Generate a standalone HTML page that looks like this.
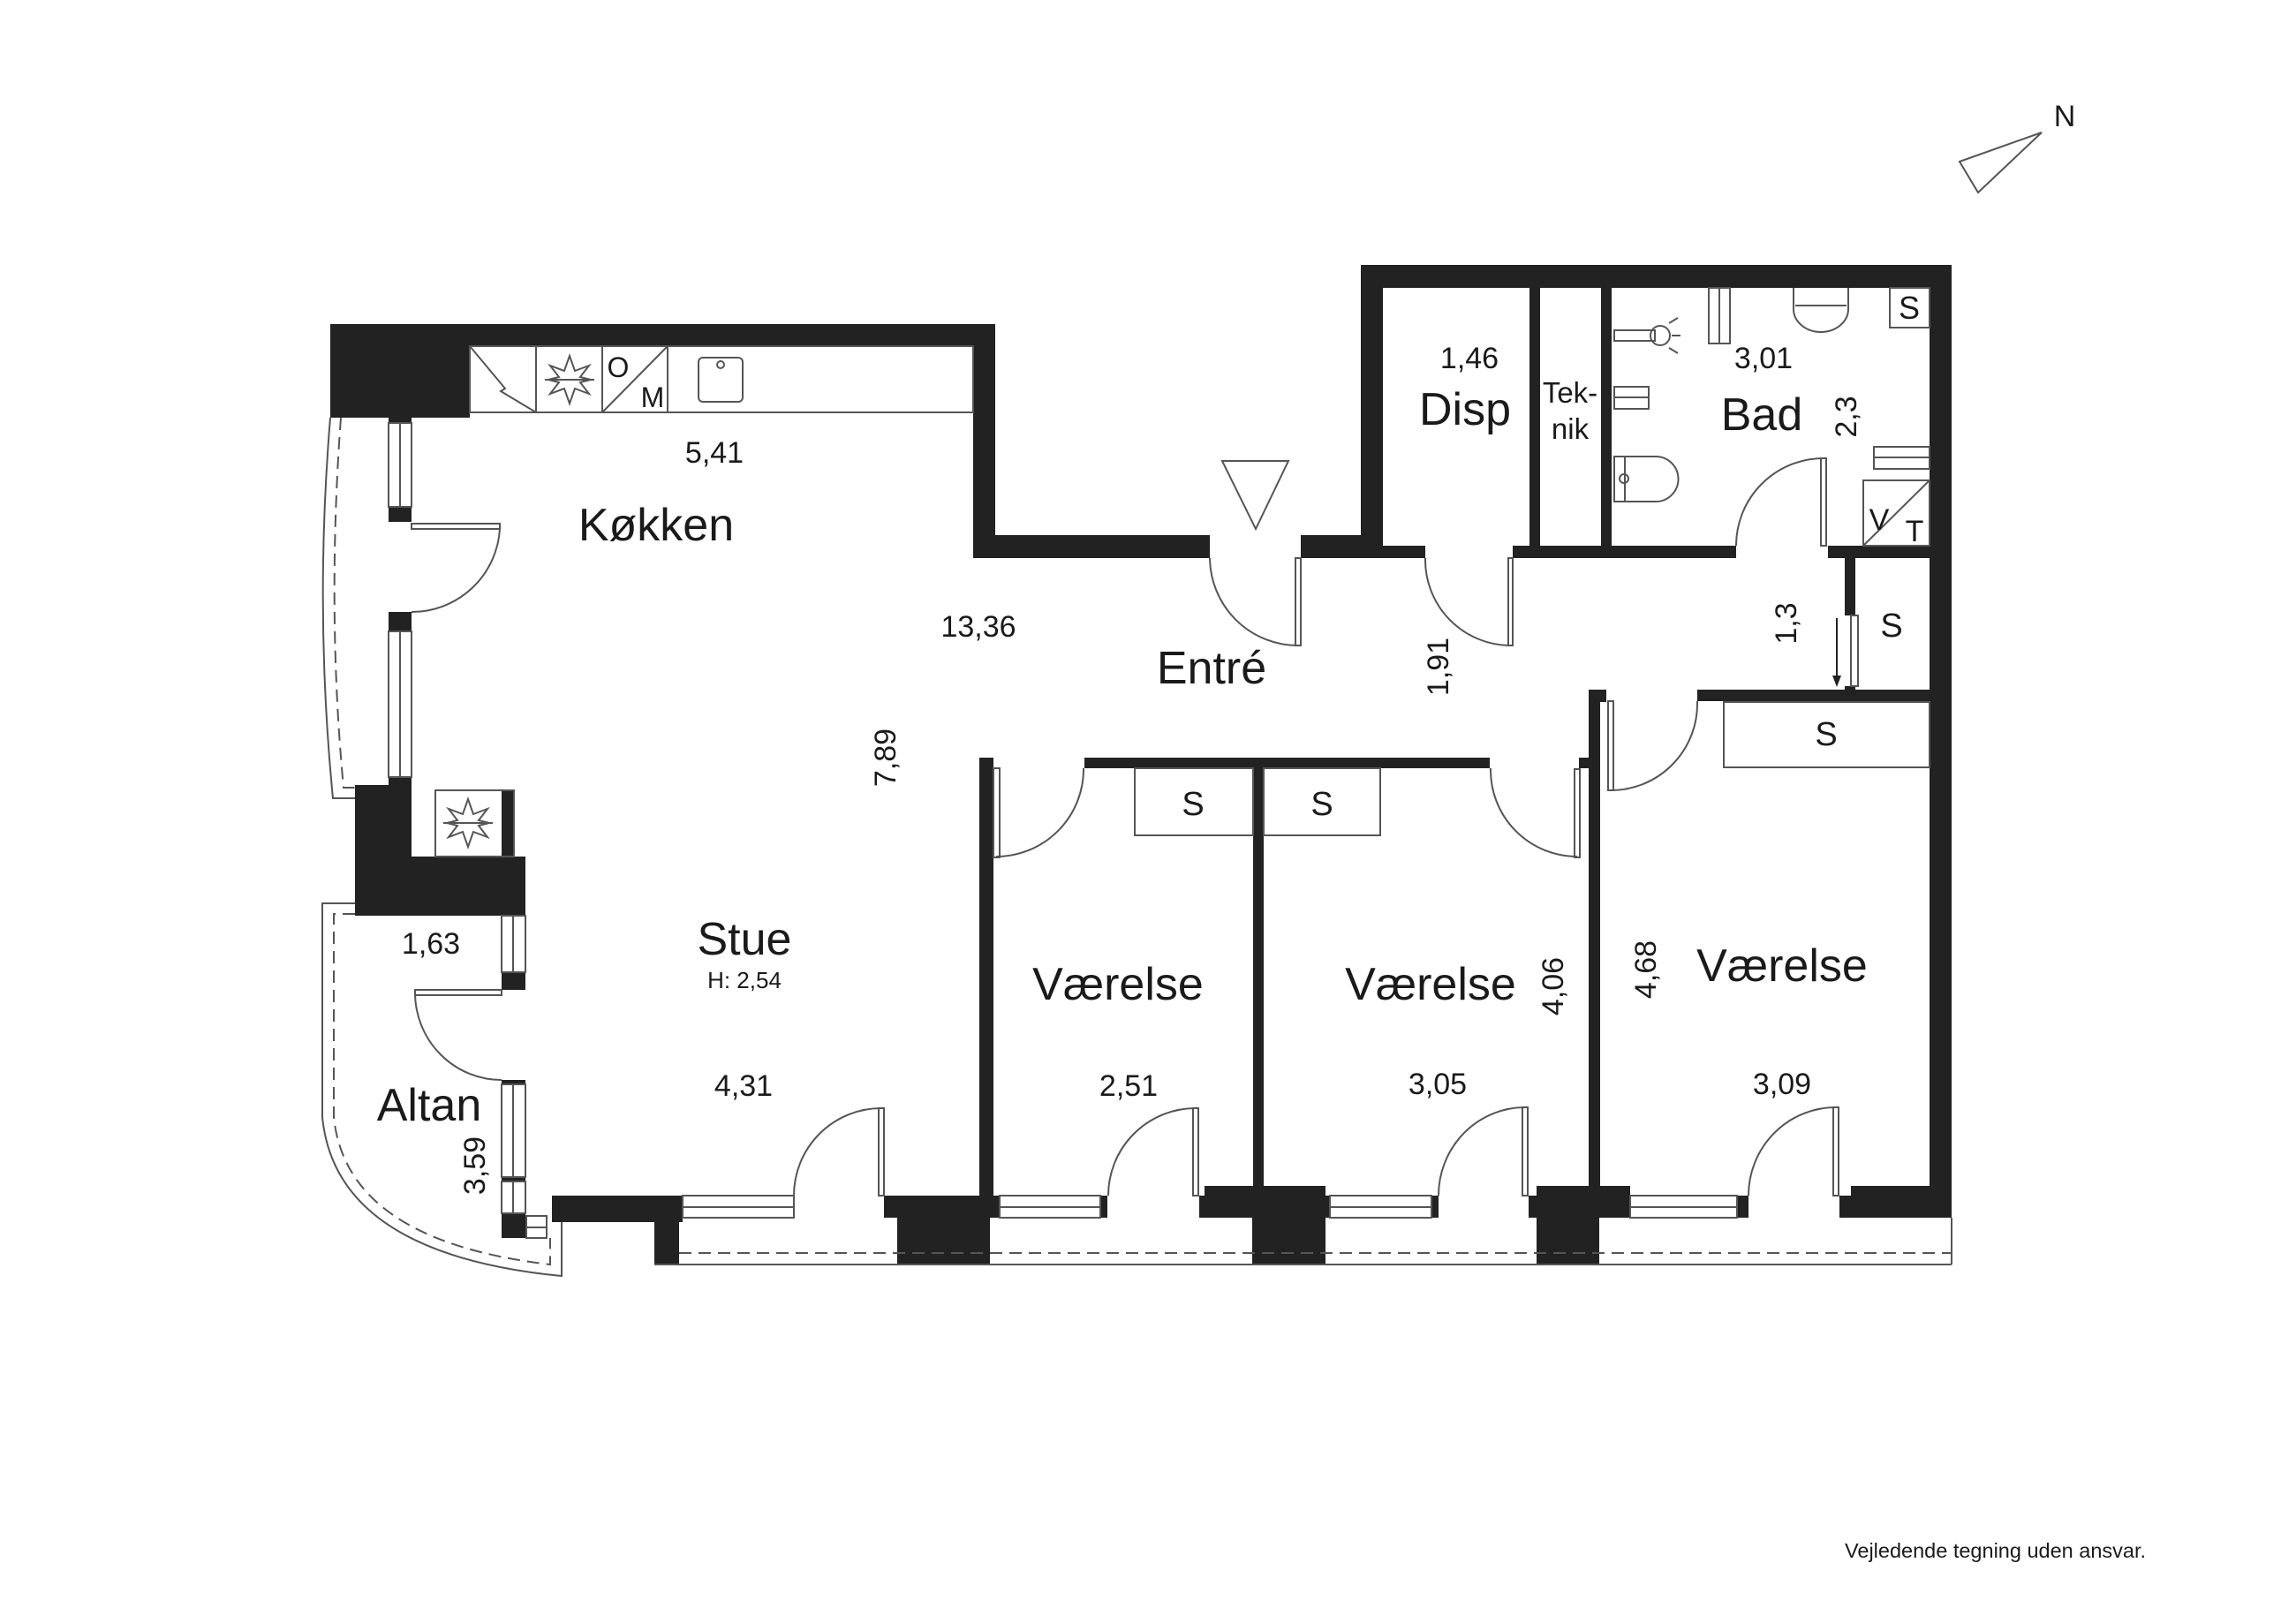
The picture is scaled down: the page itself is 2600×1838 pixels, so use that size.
<!DOCTYPE html>
<html><head><meta charset="utf-8"><style>
html,body{margin:0;padding:0;background:#fff;}
svg{display:block;}
text{font-family:"Liberation Sans",Arial,sans-serif;fill:#1a1a1a;}
</style></head><body>
<svg width="2600" height="1838" viewBox="0 0 2600 1838" xmlns="http://www.w3.org/2000/svg">
<rect width="2600" height="1838" fill="#fff"/>
<g fill="#222">
<rect x="374" y="367" width="753" height="25"/>
<rect x="374" y="367" width="158" height="106"/>
<rect x="440" y="470" width="26" height="9"/>
<rect x="1102" y="367" width="25" height="265"/>
<rect x="1102" y="606" width="268" height="26"/>
<rect x="1473" y="606" width="93" height="26"/>
<rect x="1541" y="300" width="25" height="332"/>
<rect x="1541" y="300" width="669" height="26"/>
<rect x="2185" y="300" width="25" height="1079"/>
<rect x="2096" y="1343" width="114" height="36"/>
<rect x="2083" y="1354" width="20" height="25"/>
<rect x="1566" y="618" width="48" height="14"/>
<rect x="1713" y="618" width="253" height="14"/>
<rect x="2070" y="618" width="115" height="14"/>
<rect x="1732" y="326" width="12" height="292"/>
<rect x="1813" y="326" width="12" height="292"/>
<rect x="2089" y="632" width="12" height="65"/>
<rect x="2089" y="777" width="12" height="6"/>
<rect x="1922" y="781" width="263" height="13"/>
<rect x="1799" y="781" width="20" height="14"/>
<rect x="1799" y="781" width="13" height="573"/>
<rect x="1228" y="858" width="459" height="12"/>
<rect x="1788" y="858" width="12" height="12"/>
<rect x="1109" y="858" width="16" height="496"/>
<rect x="1419" y="858" width="12" height="496"/>
<rect x="625" y="1354" width="148" height="30"/>
<rect x="741" y="1379" width="28" height="53"/>
<rect x="1001" y="1354" width="131" height="25"/>
<rect x="1016" y="1379" width="105" height="53"/>
<rect x="1246" y="1354" width="8" height="25"/>
<rect x="1358" y="1354" width="148" height="25"/>
<rect x="1364" y="1343" width="137" height="12"/>
<rect x="1418" y="1379" width="83" height="53"/>
<rect x="1621" y="1354" width="8" height="25"/>
<rect x="1731" y="1354" width="115" height="25"/>
<rect x="1740" y="1343" width="106" height="12"/>
<rect x="1740" y="1379" width="71" height="53"/>
<rect x="1967" y="1354" width="13" height="25"/>
<rect x="440" y="574" width="26" height="17"/>
<rect x="440" y="693" width="26" height="22"/>
<rect x="440" y="880" width="26" height="90"/>
<rect x="402" y="889" width="56" height="81"/>
<rect x="568" y="895" width="14" height="75"/>
<rect x="402" y="970" width="193" height="67"/>
<rect x="568" y="1101" width="27" height="20"/>
<rect x="568" y="1223" width="27" height="5"/>
<rect x="568" y="1333" width="27" height="5"/>
<rect x="568" y="1374" width="27" height="28"/>
</g>
<g fill="none" stroke="#555" stroke-width="2">
<rect x="440" y="479" width="26" height="95"/><line x1="453" y1="479" x2="453" y2="574"/>
<rect x="440" y="715" width="26" height="165"/><line x1="453" y1="715" x2="453" y2="880"/>
<rect x="568" y="1037" width="27" height="64"/><line x1="581" y1="1037" x2="581" y2="1101"/>
<rect x="568" y="1228" width="27" height="105"/><line x1="581" y1="1228" x2="581" y2="1333"/>
<rect x="568" y="1338" width="27" height="36"/><line x1="581" y1="1338" x2="581" y2="1374"/>
<rect x="596" y="1377" width="23" height="25"/><line x1="596" y1="1390" x2="619" y2="1390"/>
<rect x="773" y="1354" width="126" height="25"/><line x1="773" y1="1367" x2="899" y2="1367"/>
<rect x="1132" y="1354" width="114" height="25"/><line x1="1132" y1="1367" x2="1246" y2="1367"/>
<rect x="1506" y="1354" width="115" height="25"/><line x1="1506" y1="1367" x2="1621" y2="1367"/>
<rect x="1846" y="1354" width="121" height="25"/><line x1="1846" y1="1367" x2="1967" y2="1367"/>
<line x1="741" y1="1432" x2="2210" y2="1432"/>
<line x1="2210" y1="1379" x2="2210" y2="1432"/>
<line x1="769" y1="1419" x2="2210" y2="1419" stroke-dasharray="14,8"/>
<path d="M374,473 Q356,690 377,904 L402,904"/>
<path d="M386,473 Q370,690 389,892 L402,892" stroke-dasharray="14,8"/>
<path d="M402,1023 L365,1023 L365,1265 Q380,1420 636,1445 L636,1384"/>
<path d="M402,1035 L378,1035 L378,1265 Q392,1405 623,1432 L623,1402" stroke-dasharray="14,8"/>
<rect x="466" y="593" width="100" height="6"/><path d="M566,599 A100,100 0 0 1 466,693"/>
<rect x="1467" y="632" width="6" height="99"/><path d="M1370,632 A100,100 0 0 0 1470,731"/>
<rect x="1708" y="632" width="5" height="99"/><path d="M1614,632 A97,97 0 0 0 1710,731"/>
<rect x="2062" y="519" width="6" height="99"/><path d="M2065,519 A99,99 0 0 0 1966,618"/>
<rect x="1125" y="870" width="7" height="101"/><path d="M1227,870 A99,99 0 0 1 1128,970"/>
<rect x="1783" y="871" width="6" height="100"/><path d="M1688,870 A98,98 0 0 0 1786,970"/>
<rect x="1821" y="794" width="6" height="101"/><path d="M1922,794 A98,98 0 0 1 1824,895"/>
<rect x="995" y="1255" width="6" height="99"/><path d="M998,1255 A99,99 0 0 0 899,1354"/>
<rect x="1351" y="1255" width="6" height="99"/><path d="M1354,1255 A99,99 0 0 0 1255,1354"/>
<rect x="1724" y="1254" width="6" height="100"/><path d="M1727,1254 A98,100 0 0 0 1629,1354"/>
<rect x="2076" y="1254" width="6" height="100"/><path d="M2079,1254 A99,100 0 0 0 1980,1354"/>
<rect x="470" y="1121" width="98" height="6"/><path d="M470,1124 A98,99 0 0 0 568,1223"/>
<rect x="2096" y="697" width="8" height="80"/>
<rect x="1285" y="870" width="134" height="76"/>
<rect x="1431" y="870" width="132" height="76"/>
<rect x="1952" y="795" width="233" height="74"/>
<rect x="532" y="392" width="570" height="75"/>
<line x1="607" y1="392" x2="607" y2="467"/><line x1="682" y1="392" x2="682" y2="467"/><line x1="756" y1="392" x2="756" y2="467"/>
<path d="M532,392 L572,440 L567,443 L607,467"/>
<line x1="682" y1="467" x2="756" y2="392"/>
<rect x="791" y="405" width="50" height="50" rx="5"/><circle cx="816" cy="413" r="4"/>
<g transform="translate(645,430)"><polygon points="0,-27 6,-10 22,-16 12,-3 24,0 12,3 22,16 6,10 0,27 -6,10 -22,16 -12,3 -24,0 -12,-3 -22,-16 -6,-10"/><line x1="-28" y1="0" x2="28" y2="0"/></g>
<rect x="493" y="895" width="89" height="75"/>
<g transform="translate(530,932)"><polygon points="0,-27 6,-10 22,-16 12,-3 24,0 12,3 22,16 6,10 0,27 -6,10 -22,16 -12,3 -24,0 -12,-3 -22,-16 -6,-10"/><line x1="-28" y1="0" x2="28" y2="0"/></g>
<rect x="2140" y="326" width="45" height="45"/>
<path d="M2031,326 L2031,350 A31,26 0 0 0 2093,350 L2093,326"/>
<line x1="2033" y1="346" x2="2091" y2="346"/>
<rect x="1935" y="326" width="24" height="63"/><line x1="1947" y1="326" x2="1947" y2="389"/>
<circle cx="1880" cy="380" r="11"/><rect x="1828" y="374" width="46" height="12"/>
<line x1="1890" y1="366" x2="1900" y2="360"/><line x1="1893" y1="380" x2="1903" y2="380"/><line x1="1890" y1="394" x2="1900" y2="400"/>
<rect x="1828" y="438" width="39" height="25"/><line x1="1828" y1="450" x2="1867" y2="450"/>
<rect x="1828" y="517" width="12" height="51"/>
<path d="M1840,517 L1875,517 A25,25 0 0 1 1875,568 L1840,568"/>
<circle cx="1839" cy="542" r="5"/>
<rect x="2122" y="506" width="63" height="25"/><line x1="2122" y1="518" x2="2185" y2="518"/>
<rect x="2110" y="544" width="75" height="74"/><line x1="2110" y1="618" x2="2185" y2="544"/>
<polygon points="1384,522 1459,522 1422,599"/>
<polygon points="2219,183 2312,150 2240,218"/>
</g>
<path d="M2080,700 L2080,770" stroke="#222" stroke-width="2"/>
<polygon points="2075,765 2085,765 2080,778" fill="#222"/>
<g text-anchor="middle">
<text x="743" y="612" font-size="52">Køkken</text>
<text x="809" y="524" font-size="34">5,41</text>
<text x="1108" y="721" font-size="34">13,36</text>
<text x="1372" y="774" font-size="52">Entré</text>
<text x="1664" y="417" font-size="34">1,46</text>
<text x="1659" y="481" font-size="52">Disp</text>
<text x="1778" y="456" font-size="33">Tek-</text>
<text x="1778" y="497" font-size="33">nik</text>
<text x="1997" y="417" font-size="34">3,01</text>
<text x="1995" y="487" font-size="52">Bad</text>
<text x="2162" y="361" font-size="36">S</text>
<text x="2128" y="600" font-size="34">V</text>
<text x="2168" y="613" font-size="34">T</text>
<text x="2142" y="721" font-size="38">S</text>
<text x="2068" y="844" font-size="38">S</text>
<text x="1351" y="923" font-size="38">S</text>
<text x="1497" y="923" font-size="38">S</text>
<text x="700" y="427" font-size="32">O</text>
<text x="739" y="461" font-size="32">M</text>
<text x="843" y="1081" font-size="52">Stue</text>
<text x="843" y="1119" font-size="26">H: 2,54</text>
<text x="842" y="1241" font-size="34">4,31</text>
<text x="488" y="1080" font-size="34">1,63</text>
<text x="486" y="1269" font-size="52">Altan</text>
<text x="1266" y="1132" font-size="52">Værelse</text>
<text x="1278" y="1241" font-size="34">2,51</text>
<text x="1620" y="1132" font-size="52">Værelse</text>
<text x="1628" y="1239" font-size="34">3,05</text>
<text x="2018" y="1111" font-size="52">Værelse</text>
<text x="2018" y="1239" font-size="34">3,09</text>
<text transform="translate(1014,858) rotate(-90)" font-size="34">7,89</text>
<text transform="translate(1640,755) rotate(-90)" font-size="34">1,91</text>
<text transform="translate(2102,472) rotate(-90)" font-size="34">2,3</text>
<text transform="translate(2034,706) rotate(-90)" font-size="34">1,3</text>
<text transform="translate(549,1320) rotate(-90)" font-size="34">3,59</text>
<text transform="translate(1770,1117) rotate(-90)" font-size="34">4,06</text>
<text transform="translate(1875,1098) rotate(-90)" font-size="34">4,68</text>
<text x="2338" y="143" font-size="34">N</text>
</g>
<text x="2089" y="1764" font-size="23.5">Vejledende tegning uden ansvar.</text>
</svg>
</body></html>
